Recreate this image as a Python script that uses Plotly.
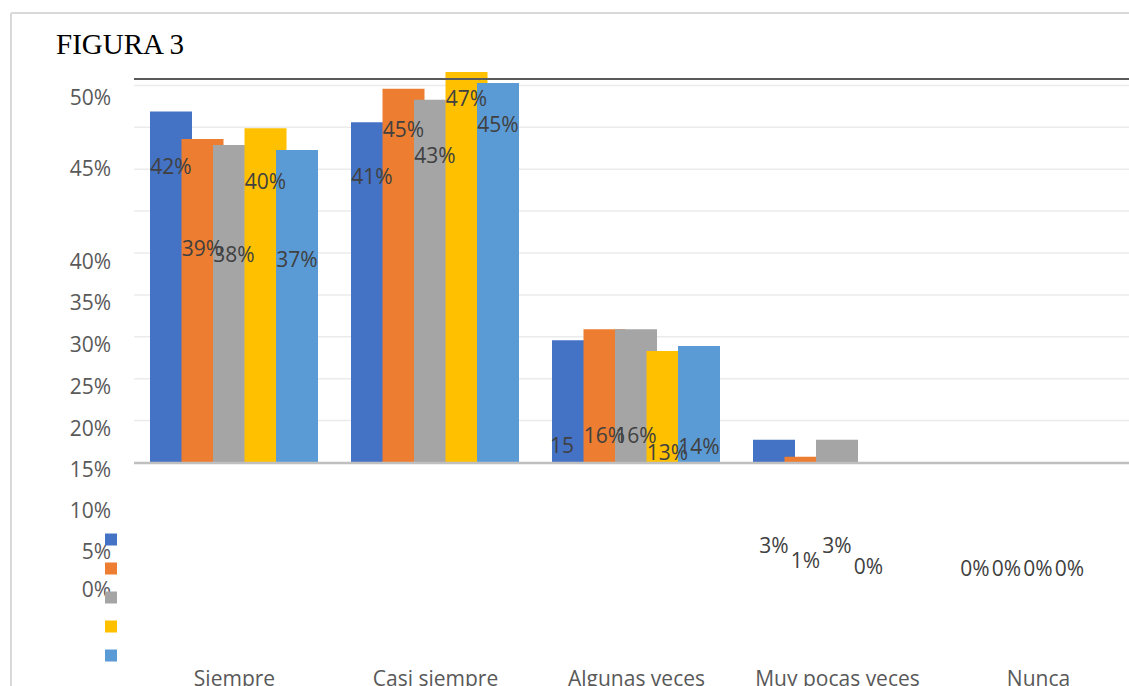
import plotly.graph_objects as go

# ---------------- data ----------------
categories = ["Siempre", "Casi siempre", "Algunas veces", "Muy pocas veces", "Nunca"]
series_colors = ["#4472C4", "#ED7D31", "#A5A5A5", "#FFC000", "#5B9BD5"]

blue_values = [41.9, 40.6, 14.6, 2.7, 0]
orange_values = [38.6, 44.6, 15.9, 0.7, 0]
gray_values = [37.9, 43.3, 15.9, 2.7, 0]
yellow_values = [39.9, 46.6, 13.3, 0, 0]
lightblue_values = [37.3, 45.3, 13.9, None, None]

blue_labels = ["42%", "41%", "15", "3%", "0%"]
orange_labels = ["39%", "45%", "16%", "1%", "0%"]
gray_labels = ["38%", "43%", "16%", "3%", "0%"]
yellow_labels = ["40%", "47%", "13%", "0%", "0%"]
lightblue_labels = ["37%", "45%", "14%", None, None]

y_tick_labels = ["50%", "45%", "40%", "35%", "30%", "25%", "20%", "15%", "10%", "5%", "0%"]

# ---------------- layout helpers (pixel geometry of the page) ----------------
W, H = 1129, 686
PLOT_L, PLOT_T, PLOT_B = 134, 60, 664
ZERO_PX = 462.5
PX_PER_UNIT = 8.38
CAT_PX = 201.0
LABEL_SHIFT_PX = 2.5


def px_to_val(py):
    return (ZERO_PX - py) / PX_PER_UNIT


# vertical centres of the (misplaced) data labels and y tick labels, in pixels
label_pos_px = [
    [166.5, 176, 445, 545, 568],
    [248, 129, 435, 560, 568],
    [254, 155, 435, 545, 568],
    [181.5, 98.5, 452, 566, 568],
    [259, 124, 446, None, None],
]
y_tick_pos_px = [97.5, 168.5, 261.5, 303, 345, 386.5, 428.5, 470, 511, 552, 590]

all_values = [blue_values, orange_values, gray_values, yellow_values, lightblue_values]
all_labels = [blue_labels, orange_labels, gray_labels, yellow_labels, lightblue_labels]

bar_width = 42 / CAT_PX
bar_step = 31.5 / CAT_PX
first_offset = -84.5 / CAT_PX

fig = go.Figure()
xs = list(range(len(categories)))

for i, (vals, col) in enumerate(zip(all_values, series_colors)):
    off = first_offset + i * bar_step
    fig.add_trace(go.Bar(
        x=xs, y=vals, width=bar_width, offset=off,
        marker=dict(color=col, line=dict(width=0)),
        name=" ", showlegend=True, hoverinfo="skip",
    ))

for i, (labs, poss) in enumerate(zip(all_labels, label_pos_px)):
    left = first_offset + i * bar_step
    centre = left + bar_width / 2
    lx, ly, lt, tp = [], [], [], []
    for k, (t, p) in enumerate(zip(labs, poss)):
        if t is None:
            continue
        if t.endswith("%"):
            lx.append(xs[k] + centre)
            tp.append("middle center")
        else:
            # label whose "%" is hidden: starts at the bar's left edge
            lx.append(xs[k] + left - 2 / CAT_PX)
            tp.append("middle right")
        ly.append(px_to_val(p + LABEL_SHIFT_PX))
        lt.append(t)
    fig.add_trace(go.Scatter(
        x=lx, y=ly, text=lt, mode="text", textposition=tp,
        textfont=dict(family="Open Sans", size=21, color="#404040"),
        showlegend=False, hoverinfo="skip", cliponaxis=False,
    ))

# gridlines every 5%
for v in range(5, 50, 5):
    fig.add_shape(type="line", xref="paper", x0=0, x1=1, yref="y", y0=v, y1=v,
                  line=dict(color="#ebebeb", width=1.5), layer="below")
# axis baseline
fig.add_shape(type="line", xref="paper", x0=0, x1=1, yref="y", y0=-0.05, y1=-0.05,
              line=dict(color="#bfbfbf", width=2.5), layer="above")
# dark top rule
fig.add_shape(type="line", xref="paper", x0=0, x1=1, yref="y",
              y0=px_to_val(79), y1=px_to_val(79),
              line=dict(color="#595959", width=2), layer="above")

plot_w = W - PLOT_L
plot_h = PLOT_B - PLOT_T


def pxx(px):
    return (px - PLOT_L) / plot_w


def pxy(py):
    return (PLOT_B - py) / plot_h


# outer frame (light gray)
fig.add_shape(type="line", xref="paper", yref="paper", x0=pxx(11), x1=pxx(1135),
              y0=pxy(13), y1=pxy(13), line=dict(color="#d9d9d9", width=2))
fig.add_shape(type="line", xref="paper", yref="paper", x0=pxx(11), x1=pxx(11),
              y0=pxy(13), y1=pxy(700), line=dict(color="#d9d9d9", width=2))

fig.update_layout(
    width=W, height=H,
    margin=dict(l=PLOT_L, r=0, t=PLOT_T, b=H - PLOT_B, autoexpand=False),
    plot_bgcolor="white", paper_bgcolor="white",
    barmode="overlay",
    title=dict(text="FIGURA 3", x=56 / W, xref="container", xanchor="left",
               y=1 - 44 / H, yref="container", yanchor="middle",
               font=dict(family="Liberation Serif", size=29, color="black")),
    legend=dict(xref="container", yref="container", x=91 / W, y=1 - 520 / H,
                xanchor="left", yanchor="top", bgcolor="rgba(0,0,0,0)",
                font=dict(family="Open Sans", size=20), tracegroupgap=0,
                itemwidth=30),
    xaxis=dict(range=[-0.5, -0.5 + plot_w / CAT_PX], tickvals=xs, ticktext=categories,
               showgrid=False, zeroline=False, showline=False, ticks="",
               tickfont=dict(family="Open Sans", size=21, color="#595959"),
               fixedrange=True),
    yaxis=dict(range=[px_to_val(PLOT_B), px_to_val(PLOT_T)],
               tickvals=[px_to_val(p) for p in y_tick_pos_px], ticktext=y_tick_labels,
               showgrid=False, zeroline=False, showline=False, ticks="",
               ticklabelstandoff=22,
               tickfont=dict(family="Open Sans", size=21, color="#595959"),
               fixedrange=True),
    showlegend=True,
)

fig.write_html("out.html")
